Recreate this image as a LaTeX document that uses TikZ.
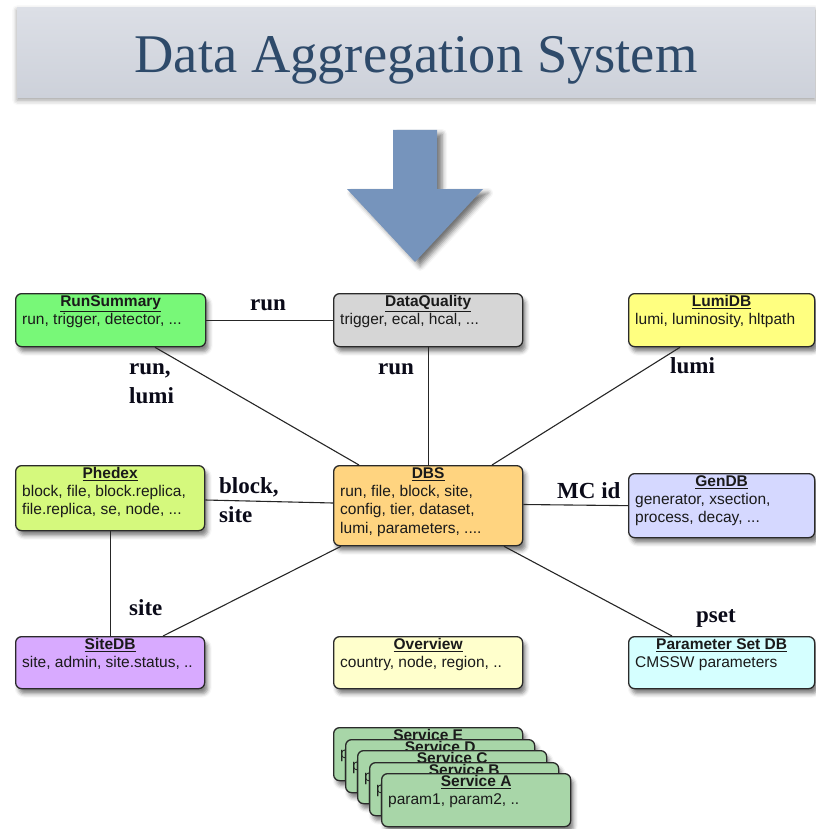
\documentclass[tikz,border=0pt]{standalone}
\usepackage{fontspec}
\setmainfont{Liberation Serif}
\newfontfamily\boxfont{Liberation Sans}
\usetikzlibrary{shadows.blur}

\definecolor{runsumfill}{HTML}{78F878}
\definecolor{dqfill}{HTML}{D6D6D6}
\definecolor{lumifill}{HTML}{FFFF80}
\definecolor{phedexfill}{HTML}{D5F97D}
\definecolor{dbsfill}{HTML}{FFD480}
\definecolor{genfill}{HTML}{D5D8FF}
\definecolor{sitefill}{HTML}{D8AAFF}
\definecolor{overfill}{HTML}{FFFFCC}
\definecolor{psetfill}{HTML}{D5FFFF}
\definecolor{svcfill}{HTML}{A8D6A8}
\definecolor{boxline}{HTML}{2A2A2A}
\definecolor{boxtext}{HTML}{1A1A1A}
\definecolor{labeltext}{HTML}{0A0A18}
\definecolor{arrowblue}{HTML}{7694BC}
\definecolor{bannertop}{HTML}{DCDFE6}
\definecolor{bannerbot}{HTML}{CDD1DA}
\definecolor{titleblue}{HTML}{2E4A6A}

\tikzset{
  dbbox/.style={draw=boxline, line width=1.3pt, rounded corners=6pt,
    anchor=north west, inner sep=0pt,
    blur shadow={shadow xshift=3pt, shadow yshift=-5pt,
      shadow blur radius=4pt, shadow opacity=50}},
  dbtitle/.style={anchor=base, inner sep=0pt,
    font=\boxfont\bfseries\fontsize{15.5}{18}\selectfont, text=boxtext},
  dbbody/.style={anchor=base west, inner sep=0pt,
    font=\boxfont\fontsize{15.5}{18.5}\selectfont, text=boxtext},
  link/.style={draw=black!85, line width=1.1pt},
  keylabel/.style={anchor=base west, inner sep=0pt,
    font=\bfseries\fontsize{23}{29}\selectfont, text=labeltext},
}

% name, x, y, width, height, fill, title, body lines
\newcommand{\dbnode}[8]{%
  \node[dbbox, fill=#6, minimum width=#4pt, minimum height=#5pt] (#1) at (#2,#3) {};
  \node[dbtitle] (#1-title) at ([yshift=-13.5pt]#1.north) {\underline{#7}};
  \node[dbbody] (#1-body) at ([xshift=7pt,yshift=-31pt]#1.north west)
    {\parbox[t]{#4pt}{#8}};
}

\begin{document}
\begin{tikzpicture}[x=1pt,y=-1pt]
\useasboundingbox (0,0) rectangle (815,829);

% title banner
\node[anchor=north west, minimum width=798pt, minimum height=90pt, inner sep=0pt,
  top color=bannertop, bottom color=bannerbot, draw=none,
  blur shadow={shadow xshift=0pt, shadow yshift=-3pt, shadow blur radius=5pt, shadow opacity=40}]
  (banner) at (17,7) {};
\node[anchor=base, inner sep=0pt, font=\fontsize{54.5}{60}\selectfont, text=titleblue]
  (bannertitle) at (416,73) {Data Aggregation System};

% big arrow
\fill[arrowblue, blur shadow={shadow xshift=5pt, shadow yshift=-4pt,
    shadow blur radius=5pt, shadow opacity=55}]
  (393,130) -- (437,130) -- (437,189) -- (483,189) -- (415,262)
  -- (347,189) -- (393,189) -- cycle;

% data services
\dbnode{runsum}{15}{293}{190}{53}{runsumfill}{RunSummary}{run, trigger, detector, ...}
\dbnode{dq}{333}{293}{189}{53}{dqfill}{DataQuality}{trigger, ecal, hcal, ...}
\dbnode{lumi}{628}{293}{186}{53}{lumifill}{LumiDB}{lumi, luminosity, hltpath}
\dbnode{phedex}{15}{465}{189}{65}{phedexfill}{Phedex}{block, file, block.replica,\\file.replica, se, node, ...}
\dbnode{dbs}{333}{465}{189}{80}{dbsfill}{DBS}{run, file, block, site,\\config, tier, dataset,\\lumi, parameters, ....}
\dbnode{gendb}{628}{473}{186}{64}{genfill}{GenDB}{generator, xsection,\\process, decay, ...}
\dbnode{sitedb}{15}{636}{189}{52}{sitefill}{SiteDB}{site, admin, site.status, ..}
\dbnode{overview}{333}{636}{189}{52}{overfill}{Overview}{country, node, region, ..}
\dbnode{pset}{628}{636}{186}{52}{psetfill}{Parameter Set DB}{CMSSW parameters}

% stack of generic services
\dbnode{svcE}{333}{727}{189}{53}{svcfill}{Service E}{param1, param2, ..}
\dbnode{svcD}{345}{739}{189}{53}{svcfill}{Service D}{param1, param2, ..}
\dbnode{svcC}{357}{750}{189}{53}{svcfill}{Service C}{param1, param2, ..}
\dbnode{svcB}{369}{762}{189}{53}{svcfill}{Service B}{param1, param2, ..}
\dbnode{svcA}{381}{773}{189}{53}{svcfill}{Service A}{param1, param2, ..}

% relations
\draw[link] (runsum.east) -- (dq.west);
\draw[link] ([xshift=140pt]runsum.south west) -- ([xshift=26pt]dbs.north west);
\draw[link] (dq.south) -- (dbs.north);
\draw[link] ([xshift=52pt]lumi.south west) -- ([xshift=159pt]dbs.north west);
\draw[link] ([yshift=-35pt]phedex.north east) -- ([yshift=-38pt]dbs.north west);
\draw[link] ([yshift=-39.5pt]dbs.north east) -- (gendb.west);
\draw[link] (phedex.south) -- (sitedb.north);
\draw[link] ([xshift=148pt]sitedb.north west) -- ([xshift=8pt]dbs.south west);
\draw[link] ([xshift=44pt]pset.north west) -- ([xshift=171pt]dbs.south west);

% relation keys
\node[keylabel] (k-run1) at (250,310) {run};
\node[keylabel] (k-runlumi) at (129,374) {\parbox[t]{80pt}{run,\\lumi}};
\node[keylabel] (k-run2) at (378,374) {run};
\node[keylabel] (k-lumi) at (670,373) {lumi};
\node[keylabel] (k-blocksite) at (219,493) {\parbox[t]{80pt}{block,\\site}};
\node[keylabel] (k-mcid) at (557,498) {MC id};
\node[keylabel] (k-site) at (129,615) {site};
\node[keylabel] (k-pset) at (696,622) {pset};
\end{tikzpicture}
\end{document}
